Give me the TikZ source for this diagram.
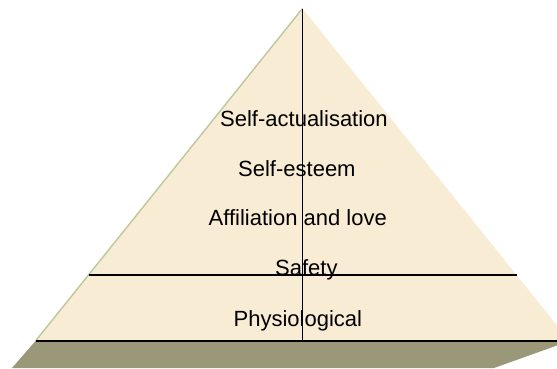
\documentclass[tikz,border=0pt]{standalone}
\usepackage{fontspec}
\setmainfont{Liberation Sans}
\begin{document}
\begin{tikzpicture}[x=1pt,y=-1pt,
  level/.style={anchor=base west,inner sep=0pt,font=\fontsize{22}{26}\selectfont,text=black},
  rule/.style={draw=black,line width=1.6pt}]
\definecolor{parchment}{HTML}{F9ECD4}
\definecolor{edgegreen}{HTML}{BCC89A}
\definecolor{baseolive}{HTML}{9A9878}
\useasboundingbox (0,0) rectangle (557,368);
\clip (0,0) rectangle (557,368);
% pyramid corners
\coordinate (apex) at (302.5,8.5);
\coordinate (bl) at (35.5,341);
\coordinate (br) at (569.5,341);
% base slab
\fill[baseolive] (bl) -- (br) -- (494,368) -- (12,368) -- cycle;
% pyramid face
\fill[parchment] (apex) -- (br) -- (bl) -- cycle;
\draw[edgegreen,line width=1.4pt] (bl) -- (apex);
% level labels
\node[level] (sa) at (220,126.5) {Self-actualisation};
\node[level] (se) at (238,176) {Self-esteem};
\node[level] (al) at (208.5,225.5) {Affiliation and love};
\node[level] (sf) at (275,275.5) {Safety};
\node[level] (ph) at (233.5,326.5) {Physiological};
% dividing lines
\coordinate (sl) at (88.5,275);
\coordinate (sr) at (516.5,275);
\coordinate (vtop) at (302.5,9);
\coordinate (vbot) at (302.5,341);
\draw[rule] (sl) -- (sr);
\draw[rule] (bl) -- (br);
\draw[rule] (vtop) -- (vbot);
\end{tikzpicture}
\end{document}
